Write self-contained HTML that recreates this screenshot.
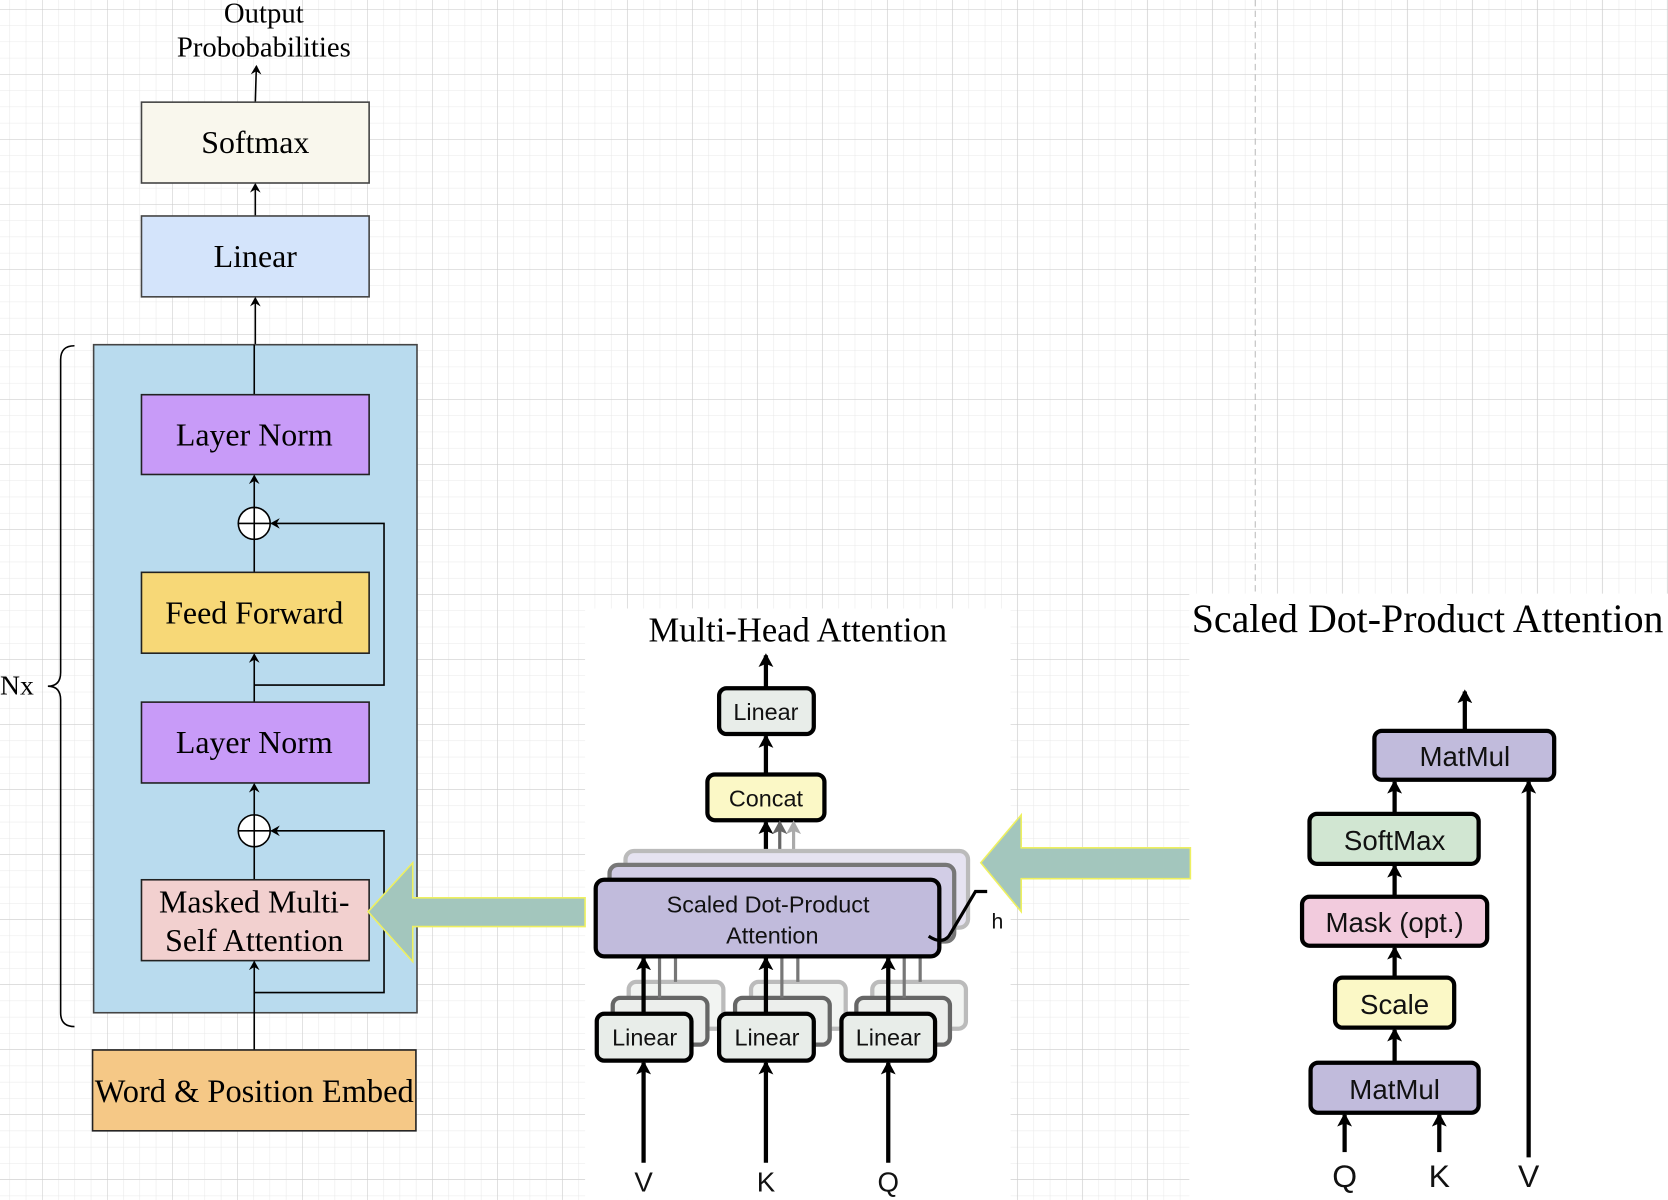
<!DOCTYPE html>
<html><head><meta charset="utf-8"><style>
html,body{margin:0;padding:0;background:#fff;width:1668px;height:1200px;overflow:hidden}
svg{display:block}
.s{font-family:"Liberation Serif",serif;fill:#000}
.h{font-family:"Liberation Sans",sans-serif;fill:#111}
</style></head><body>
<svg width="1668" height="1200" viewBox="0 0 1568 1128" xmlns="http://www.w3.org/2000/svg">
<defs>
<pattern id="minor" x="39.5" y="8.5" width="15.28" height="15.28" patternUnits="userSpaceOnUse">
<path d="M0 0H15.28M0 0V15.28" stroke="#e8e8e8" stroke-width="1" fill="none"/></pattern>
<pattern id="major" x="39.5" y="8.5" width="61.1" height="61.1" patternUnits="userSpaceOnUse">
<path d="M0 0H61.1M0 0V61.1" stroke="#cccccc" stroke-width="1" fill="none"/></pattern>
<marker id="a" markerWidth="10" markerHeight="10" refX="8" refY="5" orient="auto" markerUnits="userSpaceOnUse"><path d="M0 0L9 5L0 10L3 5Z" fill="#000"/></marker>
<marker id="b" markerWidth="14" markerHeight="14" refX="11" refY="7" orient="auto" markerUnits="userSpaceOnUse"><path d="M0 0L13 7L0 14L3 7Z" fill="#000"/></marker>
<marker id="g1" markerWidth="14" markerHeight="14" refX="11" refY="7" orient="auto" markerUnits="userSpaceOnUse"><path d="M0 0L13 7L0 14L3 7Z" fill="#666"/></marker>
<marker id="g2" markerWidth="14" markerHeight="14" refX="11" refY="7" orient="auto" markerUnits="userSpaceOnUse"><path d="M0 0L13 7L0 14L3 7Z" fill="#aaa"/></marker>
</defs>
<rect width="1568" height="1128" fill="#fff"/>
<rect width="1568" height="1128" fill="url(#minor)"/>
<rect width="1568" height="1128" fill="url(#major)"/>
<line x1="1180" y1="0" x2="1180" y2="558" stroke="#bbb" stroke-dasharray="6,4"/>
<rect x="550" y="572" width="400" height="556" fill="#fff"/>
<rect x="1118" y="558" width="450" height="570" fill="#fff"/>

<!-- left stack -->
<text class="s" x="248" y="21" font-size="27" text-anchor="middle">Output</text>
<text class="s" x="248" y="53" font-size="27" text-anchor="middle">Probobabilities</text>
<line x1="240" y1="96" x2="241" y2="62" stroke="#000" stroke-width="1.5" marker-end="url(#a)"/>
<rect x="133" y="96" width="214" height="76" fill="#f9f7ed" stroke="#444" stroke-width="1.5"/>
<text class="s" x="240" y="144" font-size="30" text-anchor="middle">Softmax</text>
<line x1="240" y1="203" x2="240" y2="173" stroke="#000" stroke-width="1.5" marker-end="url(#a)"/>
<rect x="133" y="203" width="214" height="76" fill="#d4e4fb" stroke="#444" stroke-width="1.5"/>
<text class="s" x="240" y="251" font-size="30" text-anchor="middle">Linear</text>
<line x1="240" y1="325" x2="240" y2="280" stroke="#000" stroke-width="1.5" marker-end="url(#a)"/>

<path d="M70 325 Q57 325 57 338 V632 Q57 645 45 645 Q57 645 57 658 V952 Q57 965 70 965" fill="none" stroke="#000" stroke-width="1.5"/>
<text class="s" x="0" y="653" font-size="26">Nx</text>

<rect x="88" y="324" width="304" height="628" fill="#b9dbee" stroke="#444" stroke-width="1.5"/>
<line x1="239" y1="371" x2="239" y2="324" stroke="#000" stroke-width="1.5"/>
<rect x="133" y="371" width="214" height="75" fill="#c89bf8" stroke="#222" stroke-width="1.5"/>
<text class="s" x="239" y="419" font-size="30" text-anchor="middle">Layer Norm</text>
<line x1="239" y1="477" x2="239" y2="447" stroke="#000" stroke-width="1.5" marker-end="url(#a)"/>
<circle cx="239" cy="492" r="15" fill="#fff" stroke="#000" stroke-width="1.5"/>
<path d="M224 492H254M239 477V507" stroke="#000" stroke-width="1.5"/>
<line x1="239" y1="538" x2="239" y2="507" stroke="#000" stroke-width="1.5"/>
<path d="M239 644H361V492H255" fill="none" stroke="#000" stroke-width="1.5" marker-end="url(#a)"/>
<rect x="133" y="538" width="214" height="76" fill="#f7d877" stroke="#222" stroke-width="1.5"/>
<text class="s" x="239" y="586" font-size="30" text-anchor="middle">Feed Forward</text>
<line x1="239" y1="660" x2="239" y2="615" stroke="#000" stroke-width="1.5" marker-end="url(#a)"/>
<rect x="133" y="660" width="214" height="76" fill="#c89bf8" stroke="#222" stroke-width="1.5"/>
<text class="s" x="239" y="708" font-size="30" text-anchor="middle">Layer Norm</text>
<line x1="239" y1="766" x2="239" y2="737" stroke="#000" stroke-width="1.5" marker-end="url(#a)"/>
<circle cx="239" cy="781" r="15" fill="#fff" stroke="#000" stroke-width="1.5"/>
<path d="M224 781H254M239 766V796" stroke="#000" stroke-width="1.5"/>
<line x1="239" y1="827" x2="239" y2="796" stroke="#000" stroke-width="1.5"/>
<path d="M239 933H361V781H255" fill="none" stroke="#000" stroke-width="1.5" marker-end="url(#a)"/>
<rect x="133" y="827" width="214" height="76" fill="#f2d0cf" stroke="#222" stroke-width="1.5"/>
<text class="s" x="239" y="858" font-size="30" text-anchor="middle">Masked Multi-</text>
<text class="s" x="239" y="894" font-size="30" text-anchor="middle">Self Attention</text>
<line x1="239" y1="987" x2="239" y2="904" stroke="#000" stroke-width="1.5" marker-end="url(#a)"/>
<rect x="87" y="987" width="304" height="76" fill="#f5c886" stroke="#222" stroke-width="1.5"/>
<text class="s" x="239" y="1036" font-size="30.5" text-anchor="middle">Word &amp; Position Embed</text>

<!-- big arrows -->
<path d="M346 857L388 811V844H550V871H388V904Z" fill="#a3c6bd" stroke="#eef060" stroke-width="1.5"/>
<path d="M922 811L960 766V797H1119V826H960V857Z" fill="#a3c6bd" stroke="#eef060" stroke-width="1.5"/>

<!-- multi-head -->
<text class="s" x="750" y="603" font-size="32.5" text-anchor="middle">Multi-Head Attention</text>
<line x1="720" y1="647" x2="720" y2="616" stroke="#000" stroke-width="4" marker-end="url(#b)"/>
<rect x="676" y="647" width="89" height="43" rx="7" fill="#e8ede9" stroke="#000" stroke-width="4"/>
<text class="h" x="720" y="677" font-size="22" text-anchor="middle">Linear</text>
<line x1="720" y1="728" x2="720" y2="692" stroke="#000" stroke-width="4" marker-end="url(#b)"/>
<rect x="665" y="728" width="110" height="43" rx="7" fill="#fbf8c6" stroke="#000" stroke-width="4"/>
<text class="h" x="720" y="758" font-size="22" text-anchor="middle">Concat</text>
<line x1="746" y1="800" x2="746" y2="773" stroke="#aaa" stroke-width="3" marker-end="url(#g2)"/>
<line x1="733" y1="813" x2="733" y2="773" stroke="#666" stroke-width="3" marker-end="url(#g1)"/>
<line x1="720" y1="827" x2="720" y2="773" stroke="#000" stroke-width="4" marker-end="url(#b)"/>
<rect x="588" y="800" width="322" height="72" rx="8" fill="#e6e3f1" stroke="#bbb" stroke-width="4"/>
<rect x="573" y="813" width="324" height="72" rx="8" fill="#d2cde6" stroke="#777" stroke-width="4"/>
<rect x="560" y="827" width="323" height="72" rx="8" fill="#c1bbdc" stroke="#000" stroke-width="4"/>
<text class="h" x="722" y="858" font-size="22" text-anchor="middle">Scaled Dot-Product</text>
<text class="h" x="726" y="887" font-size="22" text-anchor="middle">Attention</text>
<path d="M873 880Q885 888 892 880L917 838H928" fill="none" stroke="#000" stroke-width="3"/>
<text class="h" x="932" y="873" font-size="20">h</text>

<g>
<rect x="591" y="923" width="89" height="44" rx="7" fill="#f2f4f2" stroke="#bbb" stroke-width="4"/>
<rect x="576" y="938" width="89" height="44" rx="7" fill="#eceeec" stroke="#666" stroke-width="4"/>
<rect x="706" y="923" width="89" height="44" rx="7" fill="#f2f4f2" stroke="#bbb" stroke-width="4"/>
<rect x="691" y="938" width="89" height="44" rx="7" fill="#eceeec" stroke="#666" stroke-width="4"/>
<rect x="820" y="923" width="88" height="44" rx="7" fill="#f2f4f2" stroke="#bbb" stroke-width="4"/>
<rect x="805" y="938" width="88" height="44" rx="7" fill="#eceeec" stroke="#666" stroke-width="4"/>
<path d="M620 938V901M635 923V901M735 938V901M750 923V901M850 938V901M865 923V901" stroke="#777" stroke-width="3"/>
</g>
<rect x="561" y="953" width="89" height="44" rx="7" fill="#e8ede9" stroke="#000" stroke-width="4"/>
<rect x="676" y="953" width="89" height="44" rx="7" fill="#e8ede9" stroke="#000" stroke-width="4"/>
<rect x="791" y="953" width="88" height="44" rx="7" fill="#e8ede9" stroke="#000" stroke-width="4"/>
<text class="h" x="606" y="983" font-size="22" text-anchor="middle">Linear</text>
<text class="h" x="721" y="983" font-size="22" text-anchor="middle">Linear</text>
<text class="h" x="835" y="983" font-size="22" text-anchor="middle">Linear</text>
<g stroke="#000" stroke-width="4" marker-end="url(#b)">
<line x1="605" y1="953" x2="605" y2="901"/>
<line x1="720" y1="953" x2="720" y2="901"/>
<line x1="835" y1="953" x2="835" y2="901"/>
<line x1="605" y1="1093" x2="605" y2="999"/>
<line x1="720" y1="1093" x2="720" y2="999"/>
<line x1="835" y1="1093" x2="835" y2="999"/>
</g>
<text class="h" x="605" y="1120" font-size="26" text-anchor="middle">V</text>
<text class="h" x="720" y="1120" font-size="26" text-anchor="middle">K</text>
<text class="h" x="835" y="1120" font-size="26" text-anchor="middle">Q</text>

<!-- scaled dot product -->
<text class="s" x="1342" y="594" font-size="37.5" text-anchor="middle">Scaled Dot-Product Attention</text>
<g stroke="#000" stroke-width="4" marker-end="url(#b)">
<line x1="1377" y1="687" x2="1377" y2="650"/>
<line x1="1311" y1="765" x2="1311" y2="735"/>
<line x1="1311" y1="843" x2="1311" y2="814"/>
<line x1="1311" y1="919" x2="1311" y2="891"/>
<line x1="1311" y1="999" x2="1311" y2="968"/>
<line x1="1264" y1="1083" x2="1264" y2="1048"/>
<line x1="1353" y1="1083" x2="1353" y2="1048"/>
<line x1="1437" y1="1088" x2="1437" y2="735"/>
</g>
<rect x="1292" y="687" width="169" height="46" rx="7" fill="#c1bbdc" stroke="#000" stroke-width="4"/>
<text class="h" x="1377" y="720" font-size="26" text-anchor="middle">MatMul</text>
<rect x="1231" y="765" width="159" height="47" rx="7" fill="#d1e6d2" stroke="#000" stroke-width="4"/>
<text class="h" x="1311" y="799" font-size="26" text-anchor="middle">SoftMax</text>
<rect x="1224" y="843" width="174" height="46" rx="7" fill="#f2cbdd" stroke="#000" stroke-width="4"/>
<text class="h" x="1311" y="876" font-size="26" text-anchor="middle">Mask (opt.)</text>
<rect x="1255" y="919" width="112" height="47" rx="7" fill="#fbf8c6" stroke="#000" stroke-width="4"/>
<text class="h" x="1311" y="953" font-size="26" text-anchor="middle">Scale</text>
<rect x="1232" y="999" width="158" height="47" rx="7" fill="#c1bbdc" stroke="#000" stroke-width="4"/>
<text class="h" x="1311" y="1033" font-size="26" text-anchor="middle">MatMul</text>
<text class="h" x="1264" y="1116" font-size="30" text-anchor="middle">Q</text>
<text class="h" x="1353" y="1116" font-size="30" text-anchor="middle">K</text>
<text class="h" x="1437" y="1116" font-size="30" text-anchor="middle">V</text>
</svg>
</body></html>
